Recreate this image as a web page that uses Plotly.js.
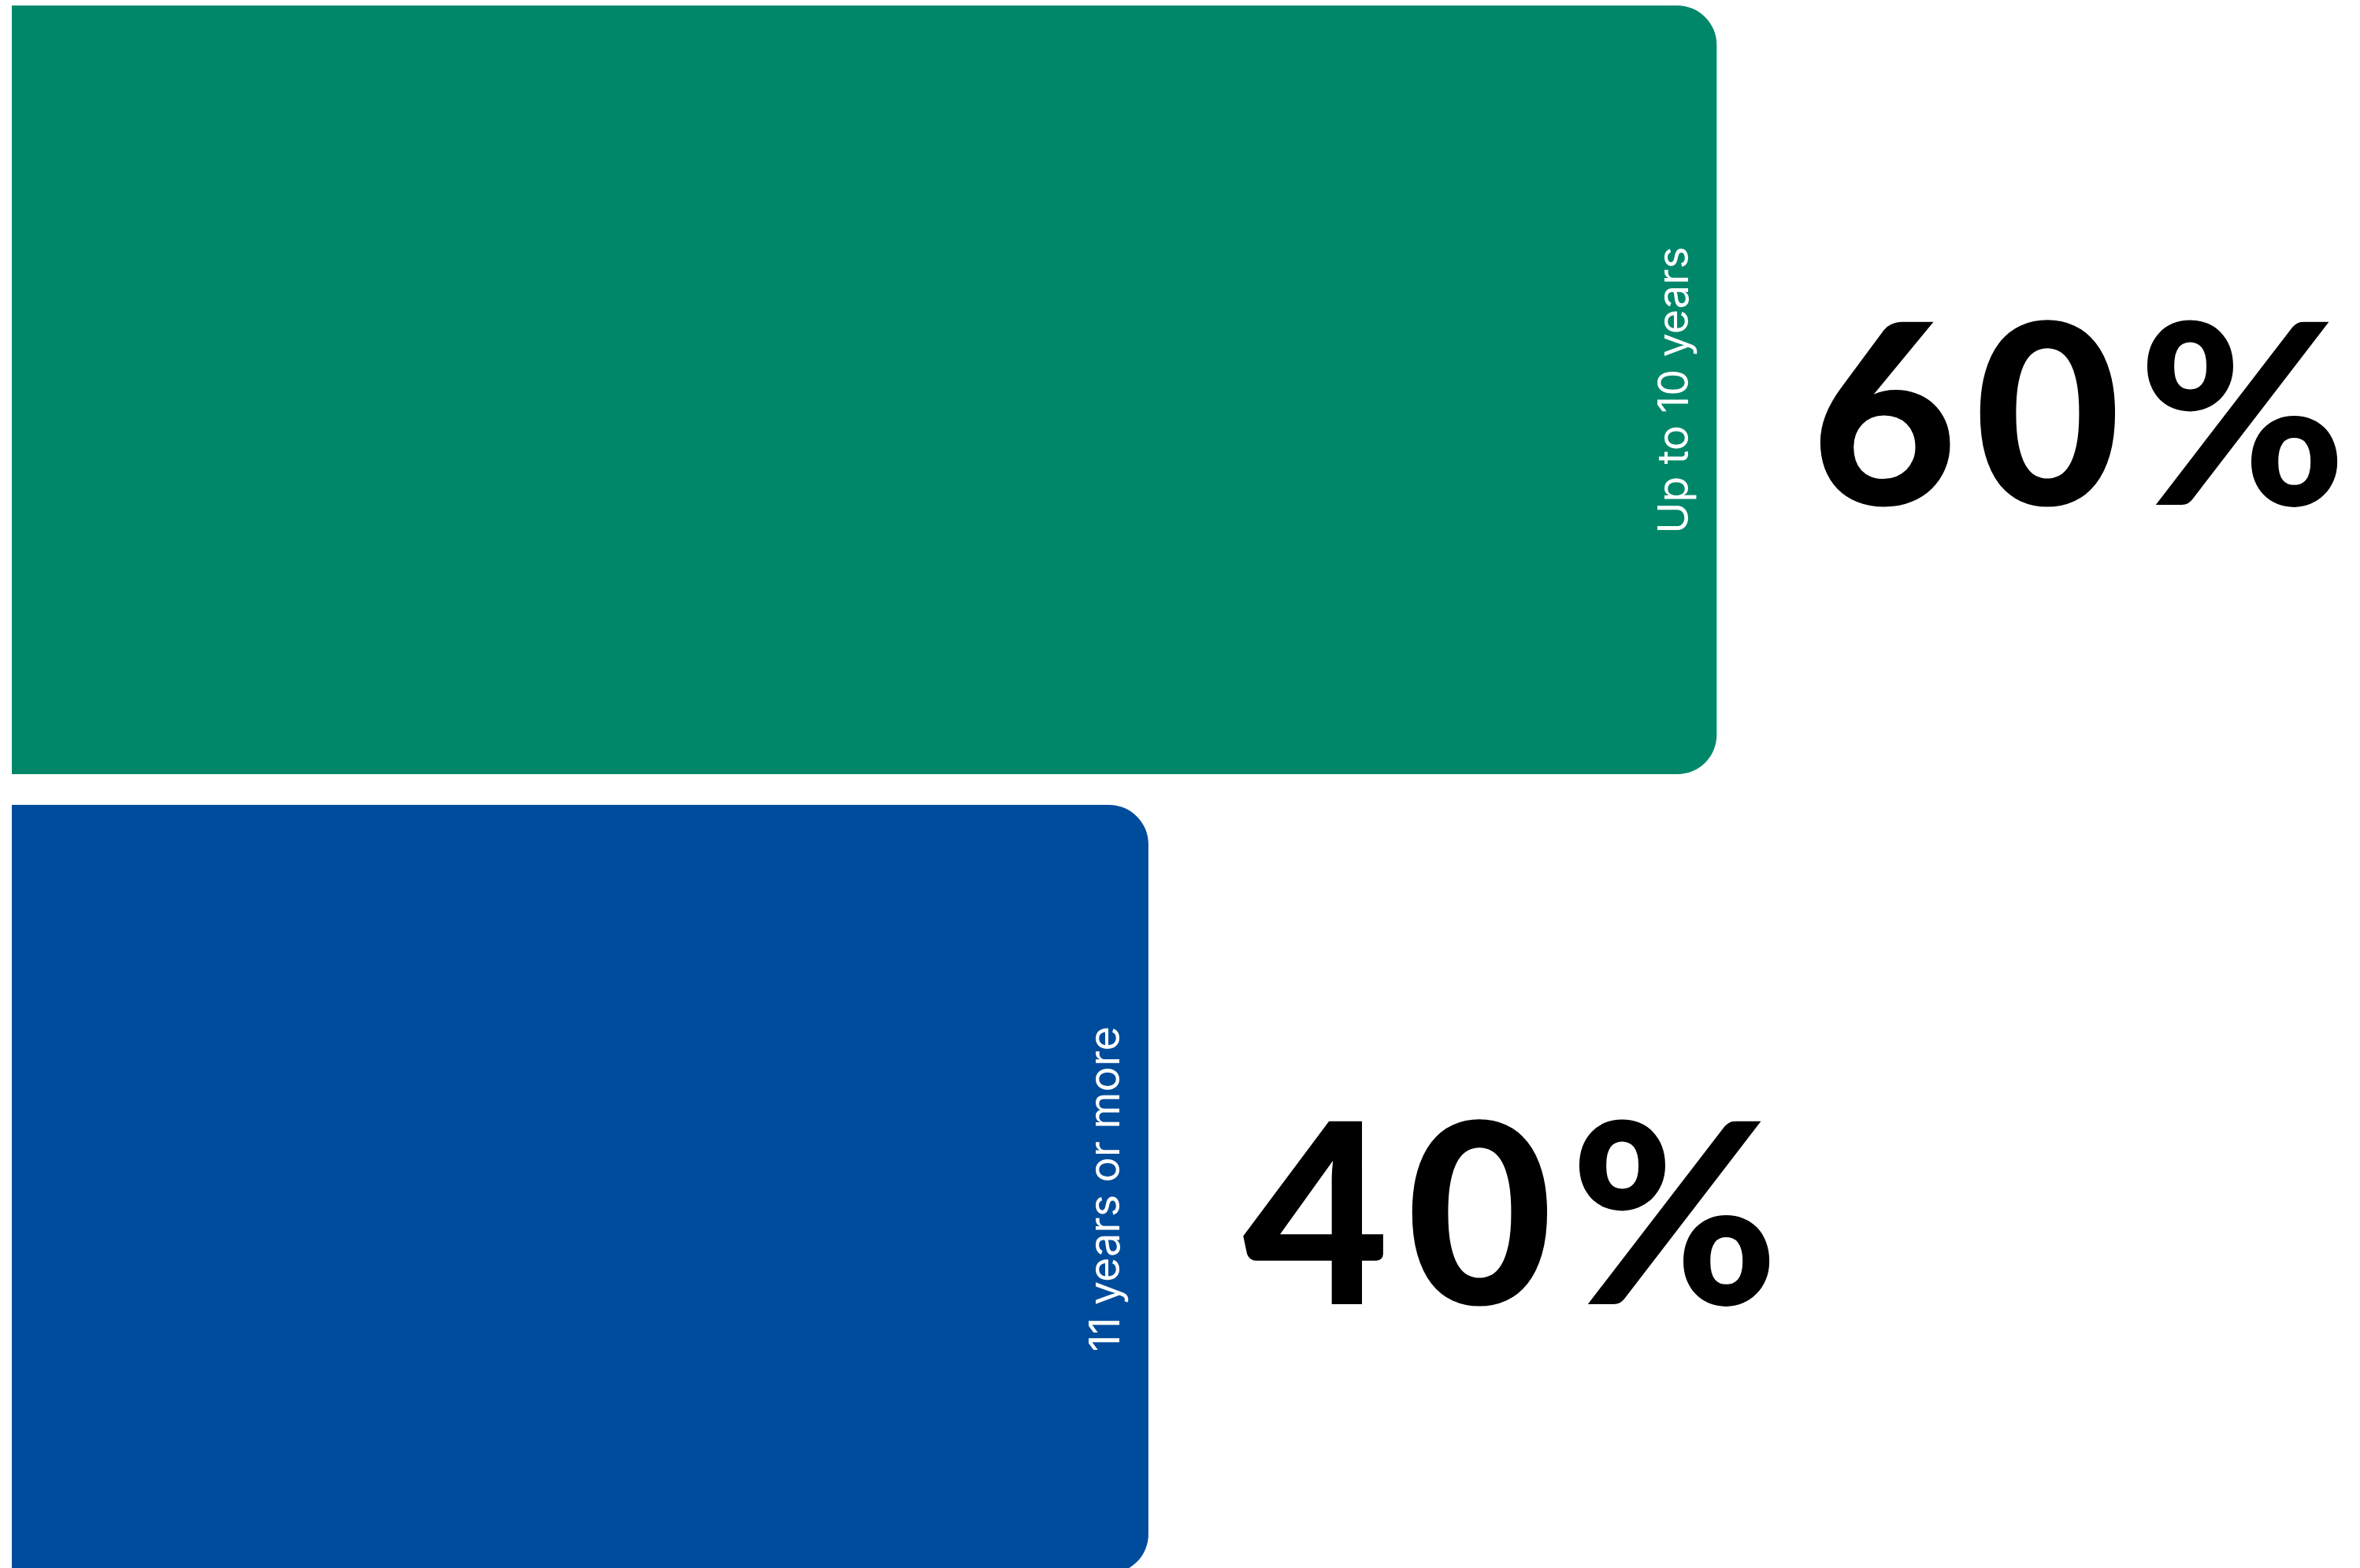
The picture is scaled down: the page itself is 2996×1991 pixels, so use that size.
<!DOCTYPE html>
<html>
<head>
<meta charset="utf-8">
<script src="https://cdn.plot.ly/plotly-3.0.1.min.js"></script>
<style>
html,body{margin:0;padding:0;background:#fff;}
#chart{width:2996px;height:1991px;}
</style>
</head>
<body>
<div id="chart"></div>
<script>
// Data (bottom to top)
const categories = ['11 years or more', 'Up to 10 years'];
const values = [40, 60];
const valueLabels = ['40', '60'];
const valueSuffix = '%';
const barColors = ['#004c9c', '#00876a'];

const trace = {
  type: 'bar',
  orientation: 'h',
  y: categories,
  x: values,
  marker: { color: barColors, cornerradius: 50, line: { width: 0 } },
  hoverinfo: 'skip',
  showlegend: false
};

const annotations = [];
categories.forEach((c, i) => {
  annotations.push({
    x: values[i], y: c, xref: 'x', yref: 'y',
    text: c, showarrow: false, textangle: -90,
    xanchor: 'right', yanchor: 'middle', xshift: -22,
    font: { family: 'Inter, "Open Sans", sans-serif', size: 54, color: '#ffffff' }
  });
  annotations.push({
    x: values[i], y: c, xref: 'x', yref: 'y',
    text: '<span style="letter-spacing:22px">' + valueLabels[i] + '</span>' + valueSuffix, showarrow: false,
    xanchor: 'left', yanchor: 'middle', xshift: 118, yshift: -22,
    font: { family: 'Lato, Inter, sans-serif', size: 320, color: '#000000', weight: 900 }
  });
});

const layout = {
  width: 2996, height: 1991,
  margin: { l: 15, r: 0, t: 0, b: 0, pad: 0 },
  paper_bgcolor: '#ffffff', plot_bgcolor: '#ffffff',
  bargap: 0.0384,
  xaxis: { range: [0, 82.64], visible: false, showgrid: false, zeroline: false, fixedrange: true },
  yaxis: { type: 'category', categoryorder: 'array', categoryarray: categories,
           range: [-0.4739, 1.4877], visible: false, showgrid: false, zeroline: false, fixedrange: true },
  annotations: annotations,
  showlegend: false
};

Plotly.newPlot('chart', [trace], layout, { staticPlot: true, displayModeBar: false });
</script>
</body>
</html>
